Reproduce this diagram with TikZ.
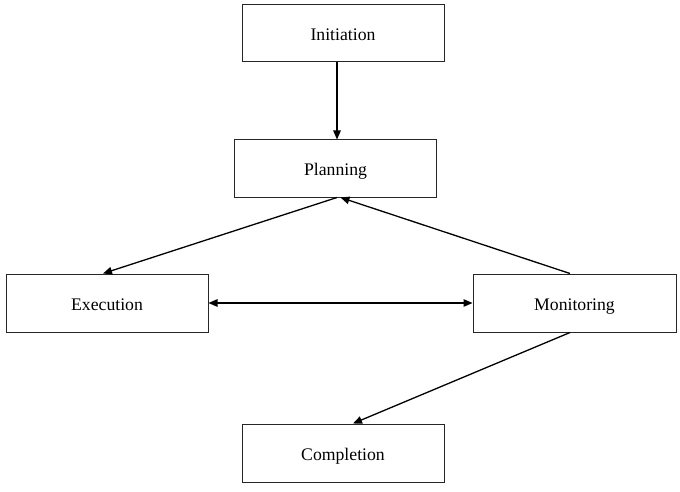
\documentclass[tikz,border=0pt]{standalone}
\usepackage{fontspec}
\setmainfont{Liberation Serif}
\usetikzlibrary{arrows.meta,calc}
\begin{document}
\begin{tikzpicture}[x=1pt,y=-1pt,
  stagebox/.style={draw=black!85,line width=1pt,minimum width=202pt,minimum height=57pt,inner sep=0pt,text height=15.5pt,text depth=1.5pt,font=\fontsize{17.7}{20}\selectfont},
  flow/.style={line width=1.3pt,-{Triangle[length=9pt,width=7.5pt]}},
  flowboth/.style={line width=1.3pt,{Triangle[length=9pt,width=7.5pt]}-{Triangle[length=9pt,width=7.5pt]}}]
\useasboundingbox[fill=white] (0,0) rectangle (680,492);
\node[stagebox] (init) at (343,33.5) {Initiation};
\node[stagebox] (plan) at (335.5,168.5) {Planning};
\node[stagebox,minimum height=58pt] (exec) at (107,303) {Execution};
\node[stagebox,minimum height=58pt,minimum width=203pt] (mon) at (574.5,303) {Monitoring};
\node[stagebox,minimum height=58pt] (comp) at (343,453) {Completion};
\coordinate (planin) at ($(plan.north)+(1.5,0)$);
\draw[flow] (init.south -| planin) -- (planin);
\draw[flow] ($(plan.south)+(1.5,0)$) -- ($(exec.north)+(-4,0)$);
\draw[flow] ($(mon.north)+(-4.5,0)$) -- ($(plan.south)+(5,0)$);
\draw[flowboth] (exec.east) -- (mon.west);
\draw[flow] ($(mon.south)+(-4.5,0)$) -- ($(comp.north)+(10,0)$);
\end{tikzpicture}
\end{document}
